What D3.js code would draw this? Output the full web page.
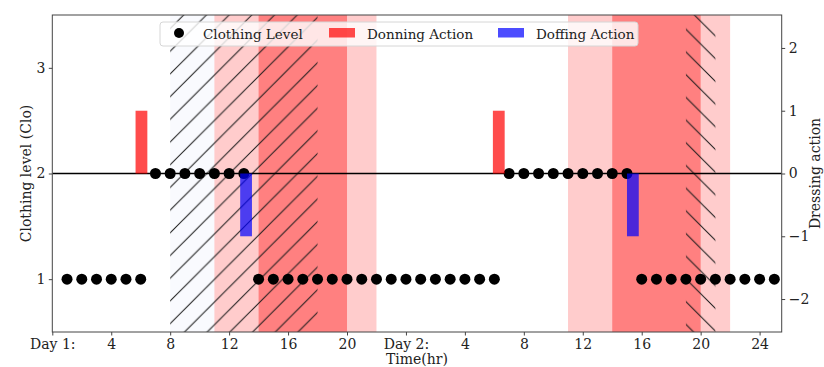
<!DOCTYPE html>
<html>
<head>
<meta charset="utf-8">
<script src="https://cdn.jsdelivr.net/npm/d3@7.9.0/dist/d3.min.js"></script>
<style>
  body { margin: 0; background: #fff; }
  svg { display: block; font-family: "DejaVu Serif", serif; }
  .tick text { font-size: 14px; fill: #222; font-family: "DejaVu Serif", serif; }
  .domain, .tick line { stroke: #444; }
</style>
</head>
<body>
<div id="chart"></div>
<script>
// Clothing level, one point each hour over two days
const clothingHours = [1, 2, 3, 4, 5, 6, 7, 8, 9, 10, 11, 12, 13, 14, 15, 16, 17, 18, 19, 20,
  21, 22, 23, 24, 25, 26, 27, 28, 29, 30, 31, 32, 33, 34, 35, 36, 37, 38, 39, 40,
  41, 42, 43, 44, 45, 46, 47, 48, 49];
const clothingLevel = [1, 1, 1, 1, 1, 1, 2, 2, 2, 2, 2, 2, 2, 1, 1, 1, 1, 1, 1, 1,
  1, 1, 1, 1, 1, 1, 1, 1, 1, 1, 2, 2, 2, 2, 2, 2, 2, 2, 2, 1,
  1, 1, 1, 1, 1, 1, 1, 1, 1];

// Dressing actions (right axis)
const actionHours = [6.05, 13.15, 30.3, 39.4];
const actionValues = [1, -1, 1, -1];
const actionTypes = ["Donning Action", "Doffing Action", "Donning Action", "Doffing Action"];

// Shaded time spans
const lightSpans = [[11, 22], [35, 46]];
const darkSpans = [[14, 20], [38, 44]];
const hatchSpans = [[8, 18, "/"], [43, 45, "\\"]];

// x tick labels
const xTickValues = [0, 4, 8, 12, 16, 20, 24, 28, 32, 36, 40, 44, 48];
const xTickLabels = ["Day 1:", "4", "8", "12", "16", "20", "Day 2:", "4", "8", "12", "16", "20", "24"];

const legendItems = ["Clothing Level", "Donning Action", "Doffing Action"];

const width = 824, height = 367;
const margin = { top: 15, right: 42.3, bottom: 35, left: 52.3 };
const plot = {
  left: margin.left,
  right: width - margin.right,
  top: margin.top,
  bottom: height - margin.bottom
};

const svg = d3.select("#chart").append("svg")
  .attr("width", width)
  .attr("height", height);

const x = d3.scaleLinear().domain([0, 49.5]).range([plot.left, plot.right]);
const yLeft = d3.scaleLinear().domain([0.5, 3.5]).range([plot.bottom, plot.top]);
const yRight = d3.scaleLinear().domain([-2.525, 2.525]).range([plot.bottom, plot.top]);

const colors = {
  "Donning Action": "rgba(255,0,0,0.7)",
  "Doffing Action": "rgba(0,0,255,0.7)"
};

svg.append("clipPath").attr("id", "plot-clip")
  .append("rect")
  .attr("x", plot.left).attr("y", plot.top)
  .attr("width", plot.right - plot.left).attr("height", plot.bottom - plot.top);

// hatch patterns
const defs = svg.append("defs");
const step = 22.7;
function makeHatch(id, dir, phase) {
  const p = defs.append("pattern")
    .attr("id", id)
    .attr("patternUnits", "userSpaceOnUse")
    .attr("width", step).attr("height", step)
    .attr("patternTransform", `translate(${phase},0)`);
  const segs = dir === "/"
    ? [[0, step, step, 0], [-1, 1, 1, -1], [step - 1, step + 1, step + 1, step - 1]]
    : [[0, 0, step, step], [-1, step - 1, 1, step + 1], [step - 1, -1, step + 1, 1]];
  segs.forEach(s => p.append("line")
    .attr("x1", s[0]).attr("y1", s[1]).attr("x2", s[2]).attr("y2", s[3])
    .attr("stroke", "#1a1a1a").attr("stroke-width", 1));
}
makeHatch("hatch-fwd", "/", 17.1);
makeHatch("hatch-back", "\\", 21.1);

const area = svg.append("g").attr("clip-path", "url(#plot-clip)");

// faint face of the first hatched span
area.append("rect")
  .attr("x", x(hatchSpans[0][0]))
  .attr("width", x(hatchSpans[0][1]) - x(hatchSpans[0][0]))
  .attr("y", plot.top).attr("height", plot.bottom - plot.top)
  .attr("fill", "#f9fafe");

area.selectAll("rect.light")
  .data(lightSpans)
  .join("rect")
  .attr("class", "light")
  .attr("x", d => x(d[0]))
  .attr("width", d => x(d[1]) - x(d[0]))
  .attr("y", plot.top).attr("height", plot.bottom - plot.top)
  .attr("fill", "#ffcccc");

area.selectAll("rect.dark")
  .data(darkSpans)
  .join("rect")
  .attr("class", "dark")
  .attr("x", d => x(d[0]))
  .attr("width", d => x(d[1]) - x(d[0]))
  .attr("y", plot.top).attr("height", plot.bottom - plot.top)
  .attr("fill", "#ff8080");

area.selectAll("rect.hatch")
  .data(hatchSpans)
  .join("rect")
  .attr("class", "hatch")
  .attr("x", d => x(d[0]))
  .attr("width", d => x(d[1]) - x(d[0]))
  .attr("y", plot.top).attr("height", plot.bottom - plot.top)
  .attr("fill", d => d[2] === "/" ? "url(#hatch-fwd)" : "url(#hatch-back)");

// zero line of dressing action
area.append("line")
  .attr("x1", plot.left).attr("x2", plot.right)
  .attr("y1", yRight(0)).attr("y2", yRight(0))
  .attr("stroke", "#000").attr("stroke-width", 1.5);

// clothing points
const points = clothingHours.map((h, i) => ({ h, v: clothingLevel[i] }));
area.selectAll("circle.pt")
  .data(points)
  .join("circle")
  .attr("class", "pt")
  .attr("cx", d => x(d.h))
  .attr("cy", d => yLeft(d.v))
  .attr("r", 5.5)
  .attr("fill", "#000");

// dressing bars
const actions = actionHours.map((h, i) => ({ h, v: actionValues[i], type: actionTypes[i] }));
const barW = x(0.8) - x(0);
area.selectAll("rect.bar")
  .data(actions)
  .join("rect")
  .attr("class", "bar")
  .attr("x", d => x(d.h) - barW / 2)
  .attr("width", barW)
  .attr("y", d => Math.min(yRight(d.v), yRight(0)))
  .attr("height", d => Math.abs(yRight(d.v) - yRight(0)))
  .attr("fill", d => colors[d.type]);

// axes
const xAxis = d3.axisBottom(x)
  .tickValues(xTickValues)
  .tickFormat((d, i) => xTickLabels[i])
  .tickSizeOuter(0).tickSize(3.5).tickPadding(3.5);
svg.append("g")
  .attr("transform", `translate(0,${plot.bottom})`)
  .call(xAxis)
  .call(g => g.select(".domain").remove());

svg.append("g")
  .attr("transform", `translate(${plot.left},0)`)
  .call(d3.axisLeft(yLeft).tickValues([1, 2, 3]).tickFormat(d3.format("d"))
    .tickSize(3.5).tickPadding(3.5).tickSizeOuter(0))
  .call(g => g.select(".domain").remove());

svg.append("g")
  .attr("transform", `translate(${plot.right},0)`)
  .call(d3.axisRight(yRight).tickValues([-2, -1, 0, 1, 2])
    .tickFormat(d => d < 0 ? "\u2212" + Math.abs(d) : d)
    .tickSize(3.5).tickPadding(3.5).tickSizeOuter(0))
  .call(g => g.select(".domain").remove());

svg.append("rect")
  .attr("x", plot.left).attr("y", plot.top)
  .attr("width", plot.right - plot.left).attr("height", plot.bottom - plot.top)
  .attr("fill", "none").attr("stroke", "#444").attr("stroke-width", 1);

// axis titles
svg.append("text")
  .attr("x", (plot.left + plot.right) / 2).attr("y", 364)
  .attr("text-anchor", "middle")
  .attr("font-size", 14).attr("fill", "#222")
  .text("Time(hr)");

svg.append("text")
  .attr("transform", `translate(31,${(plot.top + plot.bottom) / 2}) rotate(-90)`)
  .attr("text-anchor", "middle")
  .attr("font-size", 14).attr("fill", "#222")
  .text("Clothing level (Clo)");

svg.append("text")
  .attr("transform", `translate(820,${(plot.top + plot.bottom) / 2}) rotate(-90)`)
  .attr("text-anchor", "middle")
  .attr("font-size", 14).attr("fill", "#222")
  .text("Dressing action");

// legend
const legend = svg.append("g").attr("transform", "translate(160,22)");
legend.append("rect")
  .attr("width", 478).attr("height", 24).attr("rx", 3)
  .attr("fill", "rgba(255,255,255,0.8)")
  .attr("stroke", "#d6d6d6");

const legendX = [0, 169, 338];
legendItems.forEach((name, i) => {
  const g = legend.append("g").attr("transform", `translate(${legendX[i]},0)`);
  if (i === 0) {
    g.append("circle").attr("cx", 19).attr("cy", 11).attr("r", 5).attr("fill", "#000");
  } else {
    g.append("rect").attr("x", 0).attr("y", 6).attr("width", 26).attr("height", 9.5)
      .attr("fill", colors[name]);
  }
  g.append("text")
    .attr("x", i === 0 ? 43 : 38).attr("y", 16.5)
    .attr("font-size", 13.5).attr("fill", "#222")
    .text(name);
});
</script>
</body>
</html>
